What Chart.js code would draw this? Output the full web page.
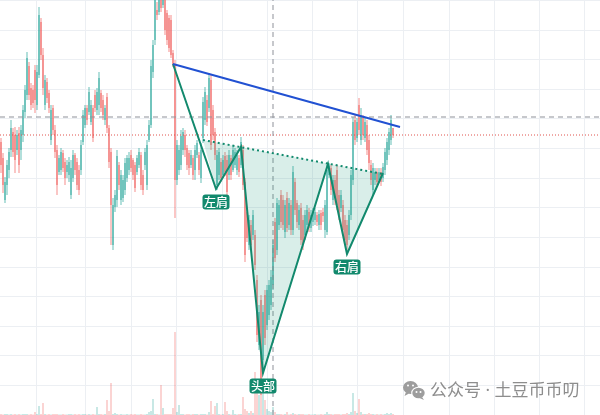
<!DOCTYPE html>
<html>
<head>
<meta charset="utf-8">
<script src="https://cdn.jsdelivr.net/npm/chart.js@4.4.1/dist/chart.umd.min.js"></script>
<style>
  html, body { margin: 0; padding: 0; background: #ffffff; overflow: hidden; }
  #wrap { width: 600px; height: 415px; position: relative; }
</style>
</head>
<body>
<div id="wrap"><canvas id="chart" width="600" height="415"></canvas></div>
<script>
// Candle series (one entry per bar, oldest first)
const OPEN = [
  858,842,800,815,830,850,868,865,850,867,
  850,865,888,905,934,912,910,930,895,925,
  978,945,895,918,907,860,892,870,850,828,
  830,847,838,828,825,805,822,845,838,830,
  830,858,875,892,888,878,892,905,890,895,
  907,900,880,903,872,848,755,793,800,835,
  800,802,810,822,830,845,840,835,828,835,
  845,825,835,815,860,875,928,960,990,988,
  1005,995,1000,987,982,980,947,936,820,830,
  835,850,865,852,847,835,842,830,845,845,
  822,862,880,900,892,920,890,868,815,825,
  838,825,844,840,825,842,830,835,830,842,
  835,850,818,788,755,775,765,765,720,655,
  700,640,705,675,685,695,715,778,750,775,
  805,800,768,802,775,795,770,818,797,775,
  792,780,765,775,788,772,778,780,785,775,
  787,788,770,768,825,832,800,820,830,805,
  792,795,780,775,765,785,820,880,862,895,
  860,882,862,875,860,835,810,820,828,820,
  828,822,830,840,850,860,872
];
const HIGH = [
  862,847,823,840,852,880,872,873,870,873,
  875,895,915,948,938,917,915,935,935,993,
  982,952,925,922,910,895,895,875,855,845,
  852,850,842,840,843,840,850,847,842,835,
  860,890,895,895,913,900,895,910,912,928,
  910,905,895,907,875,852,802,810,850,838,
  830,825,842,845,848,850,842,838,845,852,
  848,830,852,860,880,940,960,1010,998,1010,
  1010,1008,1005,990,985,985,950,940,860,855,
  870,872,870,855,850,850,845,855,860,848,
  857,903,913,905,927,925,895,872,850,852,
  842,845,848,845,850,845,855,852,850,845,
  863,855,822,792,785,780,790,770,725,695,
  705,695,710,715,720,730,760,782,802,800,
  810,805,800,808,802,800,834,822,800,795,
  797,785,790,795,792,790,792,792,788,790,
  790,792,800,835,837,835,825,825,835,810,
  810,800,785,780,790,830,883,885,882,902,
  892,885,882,880,865,840,837,832,832,832,
  832,837,852,862,872,885,872
];
const LOW = [
  827,807,797,805,822,843,843,827,845,827,
  840,858,882,900,900,890,892,887,890,922,
  940,905,890,897,887,855,865,842,805,825,
  825,828,815,822,818,801,818,825,810,805,
  825,855,872,875,885,875,858,888,885,885,
  888,880,875,867,832,755,750,788,793,810,
  795,798,805,818,825,828,820,808,825,832,
  810,805,830,810,858,872,922,955,980,985,
  988,992,965,955,948,942,933,782,815,825,
  830,845,843,830,825,832,820,820,842,825,
  817,857,875,874,888,850,860,840,810,820,
  818,822,824,802,820,820,828,832,825,823,
  832,810,738,758,750,750,760,730,658,650,
  605,628,655,670,680,690,710,738,745,770,
  772,770,762,768,770,765,765,785,772,770,
  755,750,760,770,768,768,774,775,774,770,
  770,778,762,765,822,805,795,795,790,780,
  788,765,755,748,760,780,815,855,858,865,
  855,860,858,845,830,815,805,815,815,817,
  814,818,825,835,845,855,862
];
const CLOSE = [
  835,815,818,835,848,872,848,840,865,835,
  870,890,910,942,905,895,897,900,928,985,
  945,912,920,902,892,890,870,848,815,842,
  848,832,822,835,838,832,845,830,815,810,
  855,885,892,880,908,895,862,892,908,922,
  892,885,892,872,838,795,795,805,844,815,
  825,820,837,842,842,832,825,812,842,848,
  815,810,848,855,875,934,955,1000,985,1002,
  992,1003,970,960,952,945,936,820,855,850,
  864,868,850,835,832,845,825,850,857,830,
  850,898,908,878,922,855,865,845,845,848,
  822,840,828,808,845,825,850,848,845,828,
  858,815,745,762,780,755,785,735,665,688,
  620,688,662,710,715,723,755,742,797,795,
  778,775,795,772,797,770,828,790,778,790,
  760,755,785,790,772,785,788,788,778,786,
  775,784,795,830,834,810,820,802,795,785,
  805,770,760,755,785,825,878,860,878,870,
  885,865,878,850,837,820,832,828,818,828,
  818,833,848,858,868,880,865
];
const VOLUME = [
  1,0.5,1,1,0.5,1,0.5,1,0.5,1,
  0.5,1,1,1,0.5,1,0.5,3,1,9,
  1,12,1,0.5,1,0.5,1,1,1,0.5,
  0.5,1,0.5,0.5,1,1,0.5,1,0.5,1,
  0.5,1,1,0.5,1,0.5,1,0.5,8,1,
  1,0.5,1,15,4,32,1,2,1,0.5,
  1,0.5,0.5,1,0.5,1,0.5,1,0.5,0.5,
  1,0.5,0.5,1,3,4,16,1,1,0.5,
  30,7,1,1,1,1,7,83,3,10,
  1,1,0.5,1,1,0.5,1,1,1,0.5,
  1,1,1,0.5,3,14,1,9,12,1,
  0.5,1,13,4,1,0.5,5,1,0.5,1,
  1,18,6,4,2,4,2,43,35,20,
  25,25,15,6,4,3,8,3,1,1,
  1,0.5,1,3,0.5,1,2,1,0.5,1,
  1,1,0.5,0.5,1,0.5,0.5,1,0.5,0.5,
  1,0.5,1,3,1,1,0.5,1,1,1,
  0.5,1,1,2,1,3,22,4,2,16,
  3,1,1,1,2,1,1,0.5,1,0.5,
  1,0.5,1,2,1,2,1
];

// Head-and-shoulders drawing: vertices (bar index, price) and their captions
const PATTERN_X = [86, 107.5, 120, 131, 163.5, 173, 191];
const PATTERN_Y = [936, 811, 853, 627, 836, 746, 827];
const PATTERN_LABELS = ['', '左肩', '', '头部', '', '右肩', ''];

// Neckline and descending resistance line
const NECK_X = [101, 191];
const NECK_Y = [860, 826];
const TREND_X = [86, 199.5];
const TREND_Y = [936, 873];

// Last price, crosshair position
const LAST_PRICE = 865;
const CROSS_X = 136;
const CROSS_Y = 883;

// Grid positions (bar index for the time grid, price for the price grid)
const TIME_GRID = [4, 31, 53.5, 76.5, 99, 122, 144.5, 167, 189.5, 213, 235, 258, 280.5];
const PRICE_GRID = [614.6, 644.2, 673.8, 703.4, 733, 762.6, 792.2, 821.8, 851.4, 881, 910.6, 940.2, 969.8, 999.4];

const WATERMARK = '公众号 · 土豆币币叨';

const X_MIN = -0.5, X_MAX = 299.5;
const Y_MIN = 585, Y_MAX = 1000;

const UP = 'rgba(38,166,154,0.7)';
const DOWN = 'rgba(239,83,80,0.66)';
const UP_VOL = 'rgba(38,166,154,0.5)';
const DOWN_VOL = 'rgba(239,83,80,0.5)';
const GREEN = '#12896d';

const isUp = i => CLOSE[i] >= OPEN[i];

const pts = (xs, ys) => xs.map((x, i) => ({ x, y: ys[i] }));

// Translucent fill between neckline and the shoulder/head legs
const patternFill = {
  id: 'patternFill',
  beforeDatasetDraw(chart, args) {
    if (chart.data.datasets[args.index].label !== 'pattern') return;
    const { ctx, scales: { x, y } } = chart;
    ctx.save();
    ctx.beginPath();
    ctx.moveTo(x.getPixelForValue(NECK_X[0]), y.getPixelForValue(NECK_Y[0]));
    for (let i = 1; i < PATTERN_X.length; i++) {
      ctx.lineTo(x.getPixelForValue(PATTERN_X[i]), y.getPixelForValue(PATTERN_Y[i]));
    }
    ctx.lineTo(x.getPixelForValue(NECK_X[1]), y.getPixelForValue(NECK_Y[1]));
    ctx.closePath();
    ctx.fillStyle = 'rgba(18,150,118,0.16)';
    ctx.fill();
    ctx.restore();
  }
};

// Captions under the pattern vertices and the corner watermark
const overlays = {
  id: 'overlays',
  afterDatasetsDraw(chart) {
    const { ctx, scales: { x, y } } = chart;
    ctx.save();
    ctx.font = '500 12px "Noto Sans CJK SC", "Noto Sans", sans-serif';
    ctx.textAlign = 'center';
    ctx.textBaseline = 'middle';
    PATTERN_LABELS.forEach((txt, i) => {
      if (!txt) return;
      const px = x.getPixelForValue(PATTERN_X[i]);
      const py = y.getPixelForValue(PATTERN_Y[i]);
      const w = 27, h = 15, top = py + 5.5;
      ctx.fillStyle = GREEN;
      ctx.beginPath();
      ctx.roundRect(px - w / 2, top, w, h, 3);
      ctx.fill();
      ctx.fillStyle = '#ffffff';
      ctx.fillText(txt, px, top + h / 2 + 0.5);
    });

    // WeChat-style double bubble icon
    const g = '#9d9d9d';
    ctx.fillStyle = g;
    ctx.beginPath();
    ctx.ellipse(410.5, 387.5, 7.5, 6.5, 0, 0, Math.PI * 2);
    ctx.fill();
    ctx.beginPath();
    ctx.moveTo(406, 392); ctx.lineTo(404.5, 396); ctx.lineTo(409, 393.5); ctx.closePath();
    ctx.fill();
    ctx.fillStyle = '#ffffff';
    ctx.beginPath();
    ctx.ellipse(418.5, 393, 7.3, 6.3, 0, 0, Math.PI * 2);
    ctx.fill();
    ctx.fillStyle = g;
    ctx.beginPath();
    ctx.ellipse(418.5, 393, 6.2, 5.3, 0, 0, Math.PI * 2);
    ctx.fill();
    ctx.beginPath();
    ctx.moveTo(422, 397); ctx.lineTo(424, 400); ctx.lineTo(419.5, 398); ctx.closePath();
    ctx.fill();
    ctx.fillStyle = '#ffffff';
    [[408, 385.5], [413, 385.5], [416.5, 392], [420.5, 392]].forEach(([cx, cy]) => {
      ctx.beginPath();
      ctx.arc(cx, cy, 1, 0, Math.PI * 2);
      ctx.fill();
    });

    ctx.font = '17px "Noto Sans", "Noto Sans CJK SC", sans-serif';
    ctx.textAlign = 'left';
    ctx.textBaseline = 'middle';
    ctx.fillStyle = '#8d8d8d';
    ctx.fillText(WATERMARK, 430, 391);
    ctx.restore();
  }
};

const lineDefaults = { type: 'line', pointRadius: 0, fill: false, tension: 0, yAxisID: 'y', xAxisID: 'x' };

new Chart(document.getElementById('chart'), {
  type: 'bar',
  data: {
    datasets: [
      { ...lineDefaults, label: 'trend', data: pts(TREND_X, TREND_Y), borderColor: '#2151d2', borderWidth: 2, order: 1 },
      { ...lineDefaults, label: 'pattern', data: pts(PATTERN_X, PATTERN_Y), borderColor: GREEN, borderWidth: 2, order: 2 },
      { ...lineDefaults, label: 'neck', data: pts(NECK_X, NECK_Y), borderColor: GREEN, borderWidth: 2, borderDash: [2, 3], order: 3 },
      { ...lineDefaults, label: 'crossH', data: [{ x: X_MIN, y: CROSS_Y }, { x: X_MAX, y: CROSS_Y }], borderColor: '#8e9199', borderWidth: 1, borderDash: [5, 4], order: 4 },
      { ...lineDefaults, label: 'crossV', data: [{ x: CROSS_X, y: Y_MIN }, { x: CROSS_X, y: Y_MAX }], borderColor: '#8e9199', borderWidth: 1, borderDash: [5, 4], order: 4 },
      { ...lineDefaults, label: 'last', data: [{ x: X_MIN, y: LAST_PRICE }, { x: X_MAX, y: LAST_PRICE }], borderColor: '#e0524d', borderWidth: 1, borderDash: [1, 2], order: 6 },
      {
        label: 'body', grouped: false, maxBarThickness: 1.3, minBarLength: 1,
        data: OPEN.map((o, i) => ({ x: i, y: [o, CLOSE[i]] })),
        backgroundColor: c => isUp(c.dataIndex) ? UP : DOWN,
        borderWidth: 0, yAxisID: 'y', order: 10
      },
      {
        label: 'wick', grouped: false, maxBarThickness: 1,
        data: OPEN.map((o, i) => ({ x: i, y: [LOW[i], HIGH[i]] })),
        backgroundColor: c => isUp(c.dataIndex) ? UP : DOWN,
        borderWidth: 0, yAxisID: 'y', order: 11
      },
      {
        label: 'volume', grouped: false, maxBarThickness: 1,
        data: VOLUME.map((v, i) => ({ x: i, y: v })),
        backgroundColor: c => isUp(c.dataIndex) ? UP_VOL : DOWN_VOL,
        borderWidth: 0, yAxisID: 'vol', order: 12
      }
    ]
  },
  options: {
    responsive: false,
    animation: false,
    devicePixelRatio: 1,
    events: [],
    layout: { padding: 0 },
    plugins: { legend: { display: false }, tooltip: { enabled: false } },
    scales: {
      x: {
        type: 'linear', min: X_MIN, max: X_MAX, offset: false,
        afterBuildTicks: s => { s.ticks = TIME_GRID.map(v => ({ value: v })); },
        afterFit: s => { s.height = 0; },
        ticks: { display: false },
        border: { display: false },
        grid: { color: '#eceff3', lineWidth: 1, drawTicks: false }
      },
      y: {
        type: 'linear', position: 'left', min: Y_MIN, max: Y_MAX,
        afterBuildTicks: s => { s.ticks = PRICE_GRID.map(v => ({ value: v })); },
        afterFit: s => { s.width = 0; },
        ticks: { display: false },
        border: { display: false },
        grid: { color: '#eceff3', lineWidth: 1, drawTicks: false }
      },
      vol: {
        type: 'linear', display: false, min: 0, max: 415
      }
    }
  },
  plugins: [patternFill, overlays]
});
</script>
</body>
</html>
